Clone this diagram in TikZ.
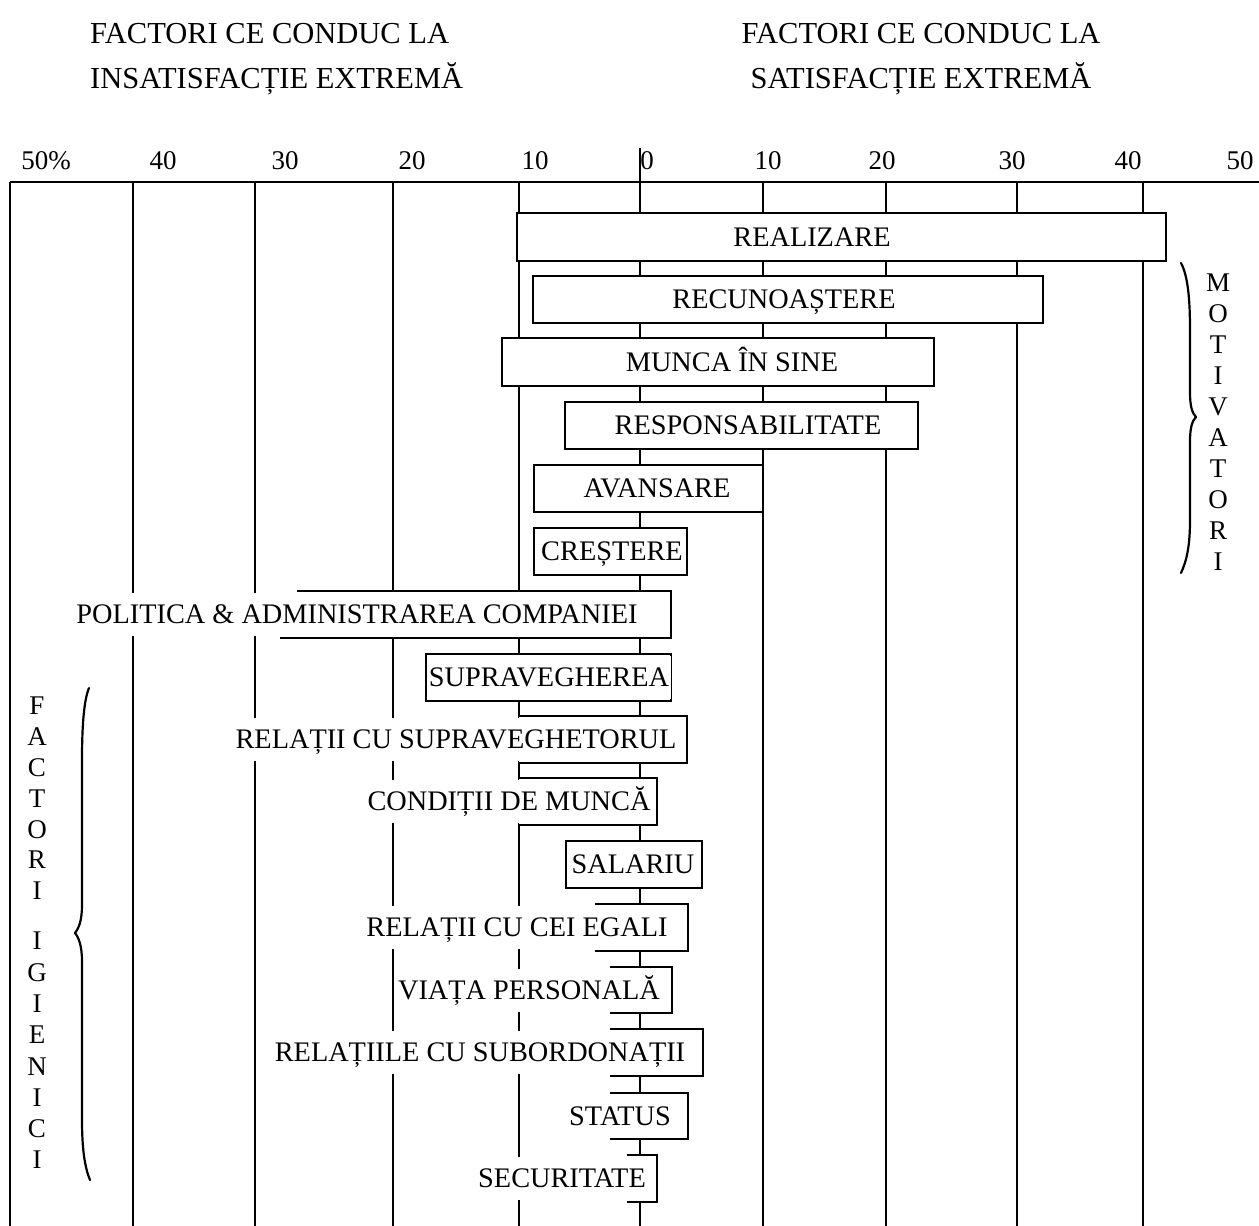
\documentclass[tikz,border=0pt]{standalone}
\usepackage{fontspec}
\setmainfont{Liberation Serif}
\begin{document}
\begin{tikzpicture}[x=1pt,y=-1pt,
  gridline/.style={line width=2.3pt},
  bar/.style={line width=2.3pt, fill=white},
  edge/.style={line width=2.3pt, line join=miter},
  lbl/.style={font=\fontsize{28.3}{30}\selectfont, fill=white, inner sep=1.5pt,
              text height=18.5pt, text depth=0pt, minimum height=43pt},
  tick/.style={font=\fontsize{27}{30}\selectfont, anchor=base, inner sep=0pt},
  head/.style={font=\fontsize{30.5}{33}\selectfont, anchor=base, inner sep=0pt},
  letter/.style={font=\fontsize{27}{30}\selectfont, inner sep=0pt,
                 text height=17.7pt, text depth=0pt},
  curly/.style={line width=2.2pt, line cap=round, line join=round}]
\useasboundingbox (0,0) rectangle (1259,1226);

% column headings
\node[head, anchor=base west] (hl1) at (90,43) {FACTORI CE CONDUC LA};
\node[head, anchor=base west] (hl2) at (90,88) {INSATISFACȚIE EXTREMĂ};
\node[head] (hr1) at (921,43) {FACTORI CE CONDUC LA};
\node[head] (hr2) at (921,88) {SATISFACȚIE EXTREMĂ};

% scale labels
\node[tick] (t50l) at (46,169) {50\%};
\node[tick] (t40l) at (163,169) {40};
\node[tick] (t30l) at (285,169) {30};
\node[tick] (t20l) at (412,169) {20};
\node[tick] (t10l) at (535,169) {10};
\node[tick] (t0)   at (647,169) {0};
\node[tick] (t10r) at (768,169) {10};
\node[tick] (t20r) at (882,169) {20};
\node[tick] (t30r) at (1012,169) {30};
\node[tick] (t40r) at (1128,169) {40};
\node[tick] (t50r) at (1240,169) {50};

% grid
\foreach \x in {10,133,255,393,519,640,763,886,1017,1143}
  \draw[gridline] (\x,182) -- (\x,1226);
\draw[gridline] (10,182) -- (1259,182);
\draw[gridline] (640,148) -- (640,182);

% closed bars
\draw[bar] (517,213) rectangle (1166,261);
\draw[bar] (533,276) rectangle (1043,323);
\draw[bar] (502,338) rectangle (934,386);
\draw[bar] (565,402) rectangle (918,449);
\draw[bar] (534,465) rectangle (763,512);
\draw[bar] (534,528) rectangle (687,575);
\draw[bar] (426,654) rectangle (671,701);
\draw[bar] (566,841) rectangle (702,888);

% open bars (label runs out to the left)
\foreach \xt/\xb/\xr/\yt/\yb in {297/280/671/591/638, 519/519/687/716/763,
    519/519/657/778/825, 595/595/688/904/951, 610/610/672/967/1013,
    610/610/703/1029/1076, 610/610/688/1093/1139, 627/627/657/1155/1202}{
  \fill[white] (\xt,\yt) -- (\xr,\yt) -- (\xr,\yb) -- (\xb,\yb) -- cycle;
  \draw[edge] (\xt,\yt) -- (\xr,\yt) -- (\xr,\yb) -- (\xb,\yb);
}

% factor labels
\node[lbl] (f1)  at (812,237)    {REALIZARE};
\node[lbl] (f2)  at (784,299.5)  {RECUNOAȘTERE};
\node[lbl] (f3)  at (732,362)    {MUNCA ÎN SINE};
\node[lbl] (f4)  at (748,425.5)  {RESPONSABILITATE};
\node[lbl] (f5)  at (657,488.5)  {AVANSARE};
\node[lbl] (f6)  at (612,551.5)  {CREȘTERE};
\node[lbl] (f7)  at (357,614.5)  {POLITICA \& ADMINISTRAREA COMPANIEI};
\node[lbl] (f8)  at (549,677.5)  {SUPRAVEGHEREA};
\node[lbl] (f9)  at (456,739.5)  {RELAȚII CU SUPRAVEGHETORUL};
\node[lbl] (f10) at (509,801.5)  {CONDIȚII DE MUNCĂ};
\node[lbl] (f11) at (633,864.5)  {SALARIU};
\node[lbl] (f12) at (517,927.5)  {RELAȚII CU CEI EGALI};
\node[lbl] (f13) at (529,990)    {VIAȚA PERSONALĂ};
\node[lbl] (f14) at (480,1052.5) {RELAȚIILE CU SUBORDONAȚII};
\node[lbl] (f15) at (620,1116)   {STATUS};
\node[lbl] (f16) at (562,1178.5) {SECURITATE};

% group braces: tall, thin, with a small point in the middle
\coordinate (mtop) at (1181,263);
\coordinate (mmid) at (1196,417);
\coordinate (mbot) at (1181,573);
\draw[curly] (mtop) .. controls (1188,276) and (1190,300) .. (1190,330)
  -- (1190,392) .. controls (1190,406) and (1192,413) .. (mmid)
  .. controls (1192,421) and (1190,428) .. (1190,442)
  -- (1190,520) .. controls (1190,545) and (1187,560) .. (mbot);
\coordinate (htop) at (89,688);
\coordinate (hmid) at (75,933);
\coordinate (hbot) at (90,1180);
\draw[curly] (htop) .. controls (84,700) and (82,725) .. (82,760)
  -- (82,905) .. controls (82,920) and (79,928) .. (hmid)
  .. controls (79,938) and (82,946) .. (82,962)
  -- (82,1120) .. controls (82,1150) and (85,1168) .. (hbot);

% vertical group names
\foreach \c [count=\i from 0] in {M,O,T,I,V,A,T,O,R,I}
  \node[letter] (m\i) at (1218,283+31*\i) {\c};
\foreach \c [count=\i from 0] in {F,A,C,T,O,R,I}
  \node[letter] (ha\i) at (37,706+30.8*\i) {\c};
\foreach \c [count=\i from 0] in {I,G,I,E,N,I,C,I}
  \node[letter] (hb\i) at (37,941+31.3*\i) {\c};
\end{tikzpicture}
\end{document}
